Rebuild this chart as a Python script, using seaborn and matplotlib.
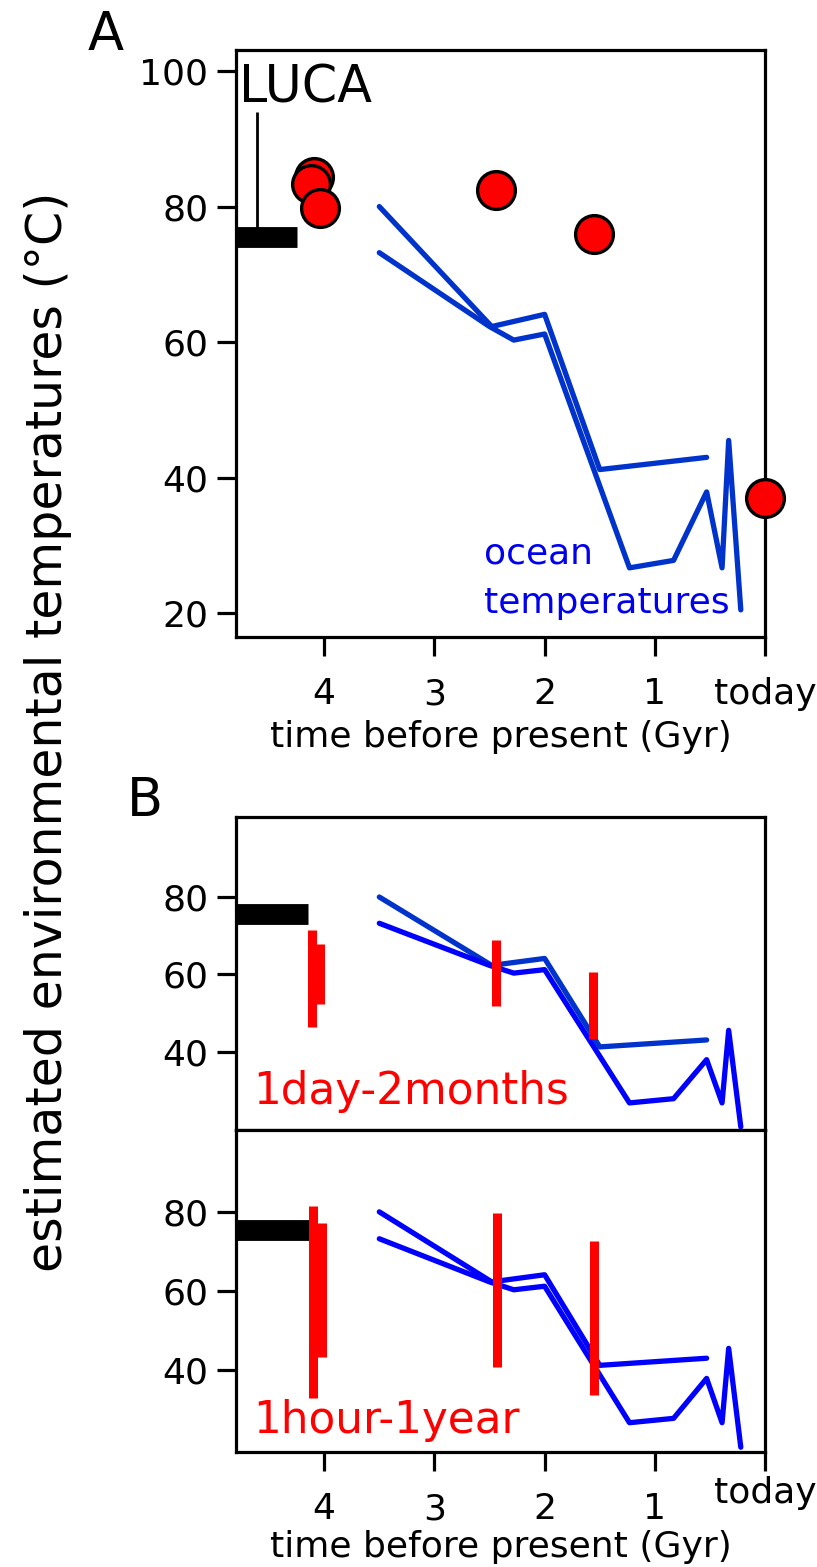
import numpy as np
import pandas as pd
import matplotlib
matplotlib.use("Agg")
import matplotlib.pyplot as plt
import seaborn as sns

# ocean temperature curves (time in Gyr before present, temperature in C)
ocean1_x = [3.5, 2.48, 2.0, 1.5, 0.53]
ocean1_y = [80.0, 62.3, 64.1, 41.2, 43.0]
ocean2_x = [3.5, 2.5, 2.28, 2.0, 1.23, 0.83, 0.53, 0.39, 0.33, 0.22]
ocean2_y = [73.2, 62.3, 60.3, 61.2, 26.7, 27.8, 37.9, 26.7, 45.5, 20.5]

# reconstructed environmental temperatures (panel A)
anc_x = [4.09, 4.12, 4.04, 2.44, 1.555, 0.0]
anc_y = [84.3, 83.4, 79.8, 82.4, 76.0, 37.0]

# LUCA estimate
luca_t = 75.5
luca_end = [4.25, 4.15, 4.13]
luca_tick_x = 4.61
luca_tick_top = 94.0

# ranges for generation times (panel B)
day_x = [4.115, 4.035, 2.44, 1.56]
day_lo = [46.3, 52.3, 51.9, 43.2]
day_hi = [71.4, 67.8, 68.9, 60.7]
hour_x = [4.10, 4.02, 2.43, 1.556]
hour_lo = [33.0, 43.3, 40.9, 33.6]
hour_hi = [81.5, 77.1, 79.7, 72.6]

xticks = [4, 3, 2, 1, 0]
xlabels_a = ["4", "3", "2", "1", "today"]
xlabels_b = ["4", "3", "2", "1", ""]

sns.set_style("ticks")
plt.rcParams['font.family'] = ['DejaVu Sans']
plt.rcParams.update({'text.color': 'black', 'axes.labelcolor': 'black',
                     'xtick.color': 'black', 'ytick.color': 'black'})

BLUE1 = "#0033cc"
BLUE2 = "#0000ff"
RED = "#ff0000"

df1 = pd.DataFrame({'x': ocean1_x, 'y': ocean1_y})
df2 = pd.DataFrame({'x': ocean2_x, 'y': ocean2_y})
anc = pd.DataFrame({'x': anc_x, 'y': anc_y})

fig = plt.figure(figsize=(8.17, 15.67), dpi=100)
axA = fig.add_axes([0.2889, 0.5935, 0.6475, 0.3746])
axB1 = fig.add_axes([0.2889, 0.2789, 0.6475, 0.1997])
axB2 = fig.add_axes([0.2889, 0.0734, 0.6475, 0.2055], sharex=axB1)


def style_axes(ax, ylim, yticks):
    ax.set_xlim(4.8, 0)
    ax.set_ylim(*ylim)
    ax.set_yticks(yticks)
    ax.set_yticklabels([str(v) for v in yticks])
    for sp in ax.spines.values():
        sp.set_visible(True)
        sp.set_linewidth(2.3)
        sp.set_color("black")
    ax.tick_params(axis='both', direction='out', length=14, width=2.3,
                   labelsize=26, color='black', labelcolor='black')
    ax.tick_params(axis='y', pad=6)
    ax.tick_params(axis='x', pad=15)
    ax.set_xlabel("")
    ax.set_ylabel("")


def ocean(ax, c1, c2):
    sns.lineplot(data=df1, x='x', y='y', ax=ax, color=c1, lw=3.8,
                 sort=False, estimator=None)
    sns.lineplot(data=df2, x='x', y='y', ax=ax, color=c2, lw=3.8,
                 sort=False, estimator=None)


# ---- panel A
ocean(axA, BLUE1, BLUE1)
axA.hlines(luca_t, 4.8, luca_end[0], color='black', lw=15)
axA.vlines(luca_tick_x, luca_t, luca_tick_top, color='black', lw=2)
sns.scatterplot(data=anc, x='x', y='y', ax=axA, s=740, color=RED,
                edgecolor='black', linewidth=2.4, zorder=5, clip_on=False)
style_axes(axA, (16.5, 103.1), [20, 40, 60, 80, 100])
axA.set_xticks(xticks)
axA.set_xticklabels(xlabels_a)
axA.set_xlabel("time before present (Gyr)", fontsize=26, labelpad=6)
axA.text(4.77, 95.3, "LUCA", fontsize=36.5, ha='left', va='baseline')
axA.text(2.55, 27.4, "ocean", fontsize=26, color="#0000ee", va='baseline')
axA.text(2.55, 20.1, "temperatures", fontsize=26, color="#0000ee", va='baseline')

# ---- panel B, 1 day - 2 months
ocean(axB1, BLUE1, BLUE2)
axB1.hlines(luca_t, 4.8, luca_end[1], color='black', lw=15)
axB1.vlines(day_x, day_lo, day_hi, color=RED, lw=6.5)
style_axes(axB1, (19.7, 100.7), [40, 60, 80])
axB1.tick_params(axis='x', bottom=False, labelbottom=False)
axB1.text(4.64, 26.3, "1day-2months", fontsize=31.5, color=RED, va='baseline')

# ---- panel B, 1 hour - 1 year
ocean(axB2, BLUE2, BLUE2)
axB2.hlines(luca_t, 4.8, luca_end[2], color='black', lw=15)
axB2.vlines(hour_x, hour_lo, hour_hi, color=RED, lw=6.5)
style_axes(axB2, (19.3, 100.7), [40, 60, 80])
axB2.set_xticks(xticks)
axB2.set_xticklabels(xlabels_b)
axB2.set_xlabel("time before present (Gyr)", fontsize=26, labelpad=3)
axB2.annotate("today", xy=(0, 0), xycoords=('data', 'axes fraction'),
              xytext=(0, -37), textcoords='offset points',
              ha='center', va='baseline', fontsize=26, annotation_clip=False)
axB2.text(4.64, 24.1, "1hour-1year", fontsize=31.5, color=RED, va='baseline')

# panel letters and shared y label
fig.text(106 / 817, 1 - 50 / 1567, "A", fontsize=38, ha='center', va='baseline')
fig.text(145 / 817, 1 - 816 / 1567, "B", fontsize=38, ha='center', va='baseline')
fig.text(48 / 817, 1 - 732 / 1567, "estimated environmental temperatures (\u00b0C)",
         fontsize=35.3, rotation=90, ha='center', va='center')

fig.savefig("out.png", dpi=100)
